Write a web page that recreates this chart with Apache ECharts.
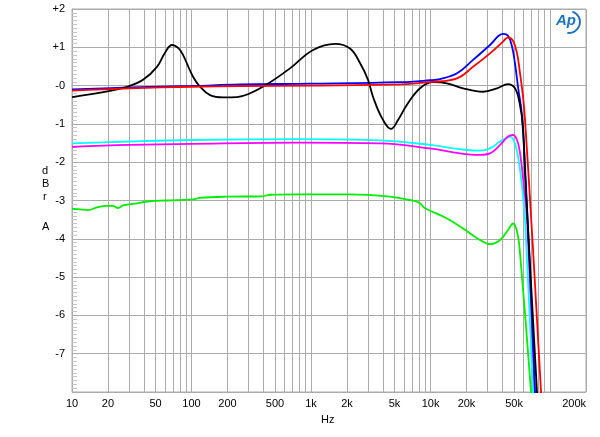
<!DOCTYPE html>
<html>
<head>
<meta charset="utf-8">
<script src="https://cdn.jsdelivr.net/npm/echarts@6/dist/echarts.min.js"></script>
<style>html,body{margin:0;padding:0;background:#fff}#c{width:600px;height:437px}</style>
</head>
<body>
<div id="c"></div>
<script>
// Frequency (Hz) / level (dBrA) pairs
var black = [[10,-0.30],[20.8,-0.14],[28.9,-0.03],[39.3,0.15],[51.4,0.49],[60,0.86],[68.7,1.06],[78,0.97],[84.9,0.80],[103,0.23],[118,-0.03],[143,-0.25],[184,-0.31],[240,-0.30],[300,-0.22],[412,0.0],[667,0.45],[1040,0.93],[1590,1.09],[2120,0.97],[2570,0.59],[3000,0.15],[3300,-0.29],[3930,-0.85],[4670,-1.13],[5350,-0.9],[6350,-0.5],[8170,-0.07],[10490,0.09],[13740,0.06],[18710,-0.07],[27490,-0.16],[35980,-0.07],[44550,0.04],[50900,-0.07],[55700,-0.46],[59430,-1.08],[61800,-2.3],[64900,-3.51],[77800,-8.0],[81150,-8.97]];
var blue = [[10,-0.10],[30,-0.05],[100,-0.01],[255,0.03],[1000,0.05],[5560,0.09],[9910,0.14],[12000,0.17],[16670,0.32],[22690,0.67],[31470,1.06],[40460,1.35],[44550,1.30],[48080,1.02],[50900,0.58],[53950,-0.03],[58300,-0.81],[66700,-4.29],[74800,-8.0],[76300,-8.6]];
var red = [[10,-0.13],[30,-0.07],[100,-0.03],[255,-0.01],[1000,0.0],[5560,0.03],[9910,0.09],[16670,0.19],[22690,0.49],[31470,0.84],[40460,1.15],[44550,1.26],[48970,1.17],[52950,0.84],[56100,0.32],[59430,-0.29],[61800,-0.9],[72100,-4.29],[84100,-8.0],[86500,-8.6]];
var cyan = [[10,-1.51],[30,-1.46],[100,-1.42],[809,-1.40],[3780,-1.43],[9910,-1.55],[17660,-1.66],[25950,-1.70],[31470,-1.64],[38180,-1.46],[44550,-1.35],[46240,-1.33],[50900,-1.51],[55050,-2.03],[58300,-2.64],[61800,-3.51],[72100,-8.0],[73450,-8.56]];
var magenta = [[10,-1.60],[30,-1.55],[100,-1.52],[809,-1.49],[3780,-1.51],[9910,-1.64],[17660,-1.77],[25950,-1.81],[31470,-1.77],[38180,-1.55],[44550,-1.33],[48970,-1.29],[52950,-1.42],[56100,-1.76],[60550,-2.64],[64260,-3.51],[74800,-8.0],[76300,-8.5]];
var green = [[10,-3.22],[11.7,-3.23],[13.6,-3.25],[16.2,-3.18],[19.6,-3.14],[22,-3.14],[24.3,-3.20],[26.7,-3.13],[32.4,-3.09],[45,-3.02],[62.4,-3.0],[103,-2.97],[118,-2.93],[198,-2.90],[396,-2.89],[454,-2.85],[809,-2.84],[2120,-2.84],[4580,-2.90],[6730,-2.99],[7140,-3.0],[8170,-3.07],[8650,-3.16],[9350,-3.23],[13740,-3.47],[18710,-3.73],[25950,-4.03],[31470,-4.14],[38180,-4.03],[44550,-3.77],[48970,-3.60],[52950,-3.81],[56100,-4.38],[69340,-8.0],[70650,-8.5]];

var gridFreqs = [10,20,30,40,50,60,70,80,90,100,200,300,400,500,600,700,800,900,1000,2000,3000,4000,5000,6000,7000,8000,9000,10000,20000,30000,40000,50000,60000,70000,80000,90000,100000,200000];
var labelFreqs = [10,20,50,100,200,500,1000,2000,5000,10000,20000,50000,200000];
var yTickLabels = {'2':'+2','1':'+1','0':'-0','-1':'-1','-2':'-2','-3':'-3','-4':'-4','-5':'-5','-6':'-6','-7':'-7','-8':''};

function lg(f){ return Math.log10(f); }
function toXY(arr){ return arr.map(function(p){ return [lg(p[0]), p[1]]; }); }
function fmtHz(v){
  var f = Math.round(Math.pow(10, v));
  return f >= 1000 ? (f/1000) + 'k' : String(f);
}

var chart = echarts.init(document.getElementById('c'), null, {renderer:'canvas'});
var font = 'Liberation Sans, Arial, sans-serif';
var gridColor = '#ababab';

function line(name, data, color){
  return {name:name, type:'line', data:toXY(data), showSymbol:false, symbol:'none',
    smooth:0.4, clip:true, lineStyle:{color:color, width:1.8}, z:3};
}

chart.setOption({
  animation:false,
  backgroundColor:'#fff',
  grid:{left:72, right:14, top:9, bottom:45, show:true, borderColor:gridColor, borderWidth:1},
  xAxis:{type:'value', min:lg(10), max:lg(200000),
    axisLine:{show:true, lineStyle:{color:gridColor}},
    axisTick:{show:false, customValues:gridFreqs.map(lg)},
    splitLine:{show:true, lineStyle:{color:gridColor, width:1}},
    axisLabel:{customValues:labelFreqs.map(lg), formatter:fmtHz, color:'#000', fontSize:11, fontFamily:font, margin:6, alignMaxLabel:'right'}
  },
  yAxis:{type:'value', min:-8, max:2, interval:1,
    axisLine:{show:true, lineStyle:{color:gridColor}},
    axisTick:{show:false},
    minorTick:{show:true, splitNumber:10, length:-5, lineStyle:{color:'#c4c4c4'}},
    splitLine:{show:true, lineStyle:{color:gridColor, width:1}},
    axisLabel:{formatter:function(v){ return yTickLabels[String(v)]; }, color:'#000', fontSize:11, fontFamily:font, margin:7}
  },
  graphic:[
    {type:'text', left:42, top:165, style:{text:'d', font:'11px '+font, fill:'#000'}},
    {type:'text', left:42, top:178, style:{text:'B', font:'11px '+font, fill:'#000'}},
    {type:'text', left:43, top:191, style:{text:'r', font:'11px '+font, fill:'#000'}},
    {type:'text', left:42, top:221, style:{text:'A', font:'11px '+font, fill:'#000'}},
    {type:'text', left:321, top:414, style:{text:'Hz', font:'11px '+font, fill:'#000'}},
    {type:'text', left:556, top:13, style:{text:'Ap', font:'italic bold 15px '+font, fill:'#1a72c0'}},
    {type:'arc', shape:{cx:569, cy:22, r:11, startAngle:-Math.PI*0.4, endAngle:Math.PI*0.55}, style:{stroke:'#1a72c0', lineWidth:1.8, fill:null}}
  ],
  series:[
    line('green', green, '#00ee00'),
    line('cyan', cyan, '#00ffff'),
    line('magenta', magenta, '#ff00ff'),
    line('blue', blue, '#0000ff'),
    line('black', black, '#000000'),
    line('red', red, '#ff0000')
  ]
});
</script>
</body>
</html>
